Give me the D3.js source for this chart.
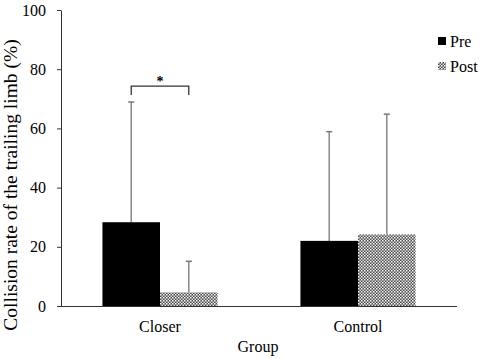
<!DOCTYPE html>
<meta charset="utf-8">
<style>
body { margin: 0; background: #fff; }
</style>
<body>
<script src="https://d3js.org/d3.v7.min.js"></script>
<script>
var groups = ["Closer", "Control"];
var series = ["Pre", "Post"];
var means = [[28.3, 4.6], [22.0, 24.2]];
var sds = [[40.6, 10.5], [36.9, 40.6]];
var yTicks = [0, 20, 40, 60, 80, 100];

var width = 484, height = 359;
var serif = "'Liberation Serif', 'Times New Roman', Times, serif";
var svg = d3.select("body").append("svg")
    .attr("width", width)
    .attr("height", height);

var defs = svg.append("defs");
var pat = defs.append("pattern")
    .attr("id", "checks")
    .attr("patternUnits", "userSpaceOnUse")
    .attr("width", 3).attr("height", 3);
pat.append("rect").attr("width", 3).attr("height", 3).attr("fill", "#4a4a4a");
pat.append("rect").attr("x", 0).attr("y", 0).attr("width", 1.5).attr("height", 1.5).attr("fill", "#fff");
pat.append("rect").attr("x", 1.5).attr("y", 1.5).attr("width", 1.5).attr("height", 1.5).attr("fill", "#ddd");

var x0 = 61, x1 = 457, yTop = 10, yBot = 306;

var x = d3.scaleBand().domain(groups).range([x0, x1]).paddingInner(0).paddingOuter(0);
var xs = d3.scaleBand().domain(series).range([0, x.bandwidth()]).paddingInner(0).paddingOuter(0.72);
var y = d3.scaleLinear().domain([0, 100]).range([yBot, yTop]);

var fills = { Pre: "#000", Post: "url(#checks)" };

// bars
var g = svg.selectAll("g.grp")
    .data(groups)
    .enter().append("g")
    .attr("class", "grp")
    .attr("transform", function(d) { return "translate(" + x(d) + ",0)"; });

g.each(function(gName, gi) {
  var sel = d3.select(this);
  series.forEach(function(s, si) {
    var m = means[gi][si], sd = sds[gi][si];
    var bx = xs(s), bw = xs.bandwidth();
    var cx = bx + bw / 2;
    sel.append("line")
      .attr("x1", cx).attr("x2", cx)
      .attr("y1", y(m)).attr("y2", y(m + sd))
      .attr("stroke", "#888").attr("stroke-width", 1.5);
    sel.append("line")
      .attr("x1", cx - 3).attr("x2", cx + 3)
      .attr("y1", y(m + sd)).attr("y2", y(m + sd))
      .attr("stroke", "#777").attr("stroke-width", 1.5);
    sel.append("rect")
      .attr("x", bx).attr("width", bw)
      .attr("y", y(m)).attr("height", y(0) - y(m))
      .attr("fill", fills[s]);
  });
});

// axes
var yAxis = d3.axisLeft(y).tickValues(yTicks).tickSize(4).tickSizeOuter(0);
var ya = svg.append("g").attr("transform", "translate(" + x0 + ",0)").call(yAxis);
ya.attr("font-family", serif).attr("font-size", 16);
ya.select(".domain").attr("stroke", "#333");
ya.selectAll(".tick line").attr("stroke", "#333");
ya.selectAll(".tick text")
  .style("font-family", serif)
  .style("font-size", "16px")
  .attr("x", -15).attr("fill", "#000");

svg.append("line")
  .attr("x1", x0).attr("x2", x1)
  .attr("y1", yBot + 0.5).attr("y2", yBot + 0.5)
  .attr("stroke", "#333");

svg.selectAll("text.cat")
  .data(groups)
  .enter().append("text")
  .attr("class", "cat")
  .attr("x", function(d) { return x(d) + x.bandwidth() / 2; })
  .attr("y", 332)
  .attr("text-anchor", "middle")
  .style("font-family", serif)
  .style("font-size", "16px")
  .text(function(d) { return d; });

svg.append("text")
  .attr("x", 258).attr("y", 352)
  .attr("text-anchor", "middle")
  .style("font-family", serif)
  .style("font-size", "16px")
  .text("Group");

svg.append("text")
  .attr("transform", "translate(17,185) rotate(-90)")
  .attr("text-anchor", "middle")
  .style("font-family", serif)
  .style("font-size", "19.5px")
  .text("Collision rate of the trailing limb (%)");

// significance bracket
var bl = x("Closer") + xs("Pre") + xs.bandwidth() / 2;
var br = x("Closer") + xs("Post") + xs.bandwidth() / 2;
var by = y(74.3);
svg.append("path")
  .attr("d", "M" + bl + "," + (by + 9) + "V" + by + "H" + br + "V" + (by + 9))
  .attr("fill", "none").attr("stroke", "#333").attr("stroke-width", 1.3);
svg.append("text")
  .attr("x", (bl + br) / 2).attr("y", by - 0.5)
  .attr("text-anchor", "middle")
  .style("font-family", serif)
  .style("font-size", "14px").style("font-weight", "bold")
  .text("*");

// legend
var leg = svg.selectAll("g.leg")
  .data(series)
  .enter().append("g")
  .attr("class", "leg")
  .attr("transform", function(d, i) { return "translate(438," + (37 + i * 25) + ")"; });
leg.append("rect")
  .attr("width", 8).attr("height", 8)
  .attr("fill", function(d) { return fills[d]; });
leg.append("text")
  .attr("x", 12).attr("y", 9.5)
  .style("font-family", serif)
  .style("font-size", "16px")
  .text(function(d) { return d; });
</script>
</body>
